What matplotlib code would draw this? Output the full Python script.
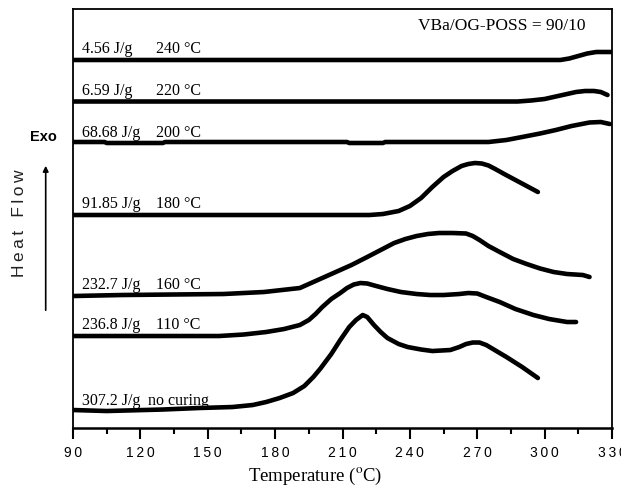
import matplotlib
matplotlib.use("Agg")
import matplotlib.pyplot as plt

# DSC curves, heat flow in arbitrary units
t_240 = [90, 300, 307, 311, 315, 319, 323, 330]
h_240 = [368, 368, 368, 369.5, 372, 374.5, 376, 376]

t_220 = [90, 288, 294, 300, 305, 310, 314, 318, 322, 325, 328]
h_220 = [326.5, 326.5, 327.5, 329, 331.5, 334, 336, 337, 337, 336, 333]

t_200 = [90, 104, 105, 130, 131, 212, 213, 228, 229, 275, 283, 290, 298, 305, 312, 320, 325, 329]
h_200 = [286, 286, 285, 285, 286, 286, 285, 285, 286, 286, 288, 291, 294.5, 298, 302, 305.5, 306, 304]

t_180 = [90, 222, 228, 235, 240, 245, 250, 255, 259, 263, 266, 269, 272, 275, 278, 282, 287, 292, 297]
h_180 = [213, 213, 214, 217, 222, 230, 241, 251, 257, 262, 264, 265, 264.5, 262.5, 259, 254, 248, 242, 236]

t_160 = [90, 112, 157, 175, 191, 198, 206, 214, 221, 227, 233, 238, 243, 248, 253, 259, 265, 268, 271, 275, 280, 286, 292, 298, 304, 310, 317, 320]
h_160 = [132, 133, 134, 136, 140, 147, 155, 163, 171, 178, 185, 189, 192, 194, 195, 195, 194.5, 192, 188, 182, 176, 169, 164, 159.5, 156, 154, 153, 151]

t_110 = [90, 155, 166, 176, 184, 191, 195, 198, 201, 205, 209, 212, 215, 218, 221, 225, 230, 236, 243, 249, 255, 262, 266, 270, 274, 280, 287, 295, 302, 310, 314]
h_110 = [92, 92, 93.5, 96, 99, 103, 108, 114, 121, 129, 135, 140, 143.5, 145, 144.5, 142, 139, 136, 134, 133, 133, 134, 135, 134.5, 131, 126, 119, 113, 109, 106, 106]

t_nc = [90, 105, 130, 146, 161, 170, 176, 182, 188, 193, 197, 200, 205, 209, 213, 216, 219, 221, 224, 227, 230, 235, 239, 245, 250, 258, 262, 265, 268, 271, 274, 277, 283, 290, 297]
h_nc = [18, 17, 18.5, 20, 21, 23, 26, 30, 35, 42, 51, 59, 74, 88, 101, 108, 113, 111, 103, 96, 90, 84, 81, 78.5, 77, 78, 81, 84, 85.5, 85.5, 83, 79, 71, 61, 50]

enthalpy = ["4.56 J/g", "6.59 J/g", "68.68 J/g", "91.85 J/g", "232.7 J/g", "236.8 J/g", "307.2 J/g"]
conditions = ["240 °C", "220 °C", "200 °C", "180 °C", "160 °C", "110 °C", "no curing"]
label_y = [375, 333, 291, 220, 139, 99, 23]

x_ticks = [90, 120, 150, 180, 210, 240, 270, 300, 330]

curves = [(t_240, h_240), (t_220, h_220), (t_200, h_200), (t_180, h_180),
          (t_160, h_160), (t_110, h_110), (t_nc, h_nc)]

plt.rcParams["mathtext.fontset"] = "stix"
serif = ["Liberation Serif", "DejaVu Serif"]
sans = ["Liberation Sans", "DejaVu Sans"]

fig = plt.figure(figsize=(6.21, 4.86), dpi=100)
ax = fig.add_axes([0.1176, 0.1193, 0.8679, 0.8622])

for t, h in curves:
    ax.plot(t, h, color="black", linewidth=3.3, solid_joinstyle="round", solid_capstyle="round")

for y, e, c in zip(label_y, enthalpy, conditions):
    ax.text(94, y, e, family=serif, fontsize=11.5, va="baseline", ha="left")
    cx = 123.5 if c == "no curing" else 127
    ax.text(cx, y, c, family=serif, fontsize=11.5, va="baseline", ha="left")

ax.text(318, 401.5, "VBa/OG-POSS = 90/10", family=serif, fontsize=12.5, ha="right", va="center")

ax.set_xlim(90, 330)
ax.set_ylim(0, 419)
ax.set_xticks(x_ticks)
ax.set_xticklabels(["\u2009".join(str(v)) for v in x_ticks], family=sans, fontsize=10)
ax.set_xticks(range(105, 330, 30), minor=True)
ax.tick_params(axis="x", which="major", direction="out", length=8, width=1.5, pad=5)
ax.tick_params(axis="x", which="minor", direction="out", length=4.5, width=1.5)
ax.set_yticks([])
for s in ax.spines.values():
    s.set_linewidth(1.3)
ax.spines["bottom"].set_linewidth(1.8)

ax.set_xlabel(r"Temperature ($^{\mathrm{o}}$C)", family=serif, fontsize=13.5, labelpad=4)
ax.xaxis.set_label_coords(0.45, -0.09)

fig.text(43 / 621, 1 - 137 / 486, "Exo", family=sans, fontsize=10.5, fontweight="bold",
         ha="center", va="center")
fig.text(20 / 621, 1 - 223 / 486, "H\u2009e\u2009a\u2009t\u2009  F\u2009l\u2009o\u2009w", family=sans,
         fontsize=12.5, rotation=90, ha="center", va="center", color="#222222")
fig.add_artist(matplotlib.patches.FancyArrowPatch(
    (45.7 / 621, 1 - 313 / 486), (45.7 / 621, 1 - 163 / 486),
    transform=fig.transFigure, arrowstyle="-|>", mutation_scale=8,
    color="black", linewidth=1.2))

fig.savefig("out.png", dpi=100)
plt.close(fig)
